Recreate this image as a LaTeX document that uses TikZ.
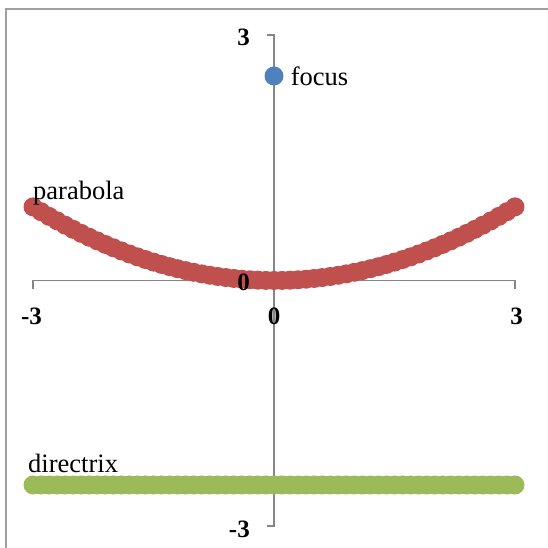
\documentclass[tikz,border=0pt]{standalone}
\usepackage{fontspec}
\setmainfont{Liberation Serif}
\usepackage{xcolor}
\usepackage{tikz}
\usetikzlibrary{positioning}
\definecolor{parabolared}{RGB}{192, 80, 77}
\definecolor{directrixgreen}{RGB}{155, 187, 89}
\definecolor{focusblue}{RGB}{79, 129, 189}
\definecolor{axisgray}{RGB}{134, 134, 134}
\definecolor{framegray}{RGB}{160, 160, 160}

\begin{document}
\begin{tikzpicture}[x=80.33pt, y=81.8pt,
    axis/.style={draw=axisgray, line width=1.5pt},
    marker/.style={circle, inner sep=0pt, minimum size=19pt},
    ticklabel/.style={font=\fontsize{25}{29}\selectfont\bfseries, inner sep=0pt},
    serieslabel/.style={font=\fontsize{26.5}{31}\selectfont, inner sep=0pt}
]
    \useasboundingbox (-3.411,-3.270) rectangle (3.411,3.429);

    % Frame
    \draw[framegray, line width=1.6pt] (-3.336,-3.4) -- (-3.336,3.319) -- (3.5,3.319);

    % Axes
    \draw[axis] (-3,-0.11) -- (-3,0) -- (3,0) -- (3,-0.11);
    \draw[axis] (-0.087,3) -- (0,3) -- (0,-3) -- (-0.087,-3);

    % Directrix
    \foreach \i in {-30,...,30}
        \fill[directrixgreen] ({\i/10},-2.5) circle (9.5pt);

    % Parabola
    \foreach \i in {-30,...,30}
        \fill[parabolared] ({\i/10},{(\i/10)^2/10}) circle (9.5pt);

    % Focus
    \node[marker, fill=focusblue] (focus) at (0,2.5) {};

    % Tick labels
    \node[ticklabel, anchor=east] (ymax) at (-0.299,2.97) {3};
    \node[ticklabel, anchor=east] (yzero) at (-0.299,-0.024) {0};
    \node[ticklabel, anchor=east] (ymin) at (-0.299,-3.044) {-3};
    \node[ticklabel] (xmin) at (-3.019,-0.44) {-3};
    \node[ticklabel] (xzero) at (0,-0.44) {0};
    \node[ticklabel] (xmax) at (3.019,-0.44) {3};

    % Series labels
    \node[serieslabel, right=7pt of focus] (focuslabel) {focus};
    \node[serieslabel, anchor=base west] (parabolalabel) at (-3.0,0.984) {parabola};
    \node[serieslabel, anchor=base west] (directrixlabel) at (-3.062,-2.353) {directrix};
\end{tikzpicture}
\end{document}
